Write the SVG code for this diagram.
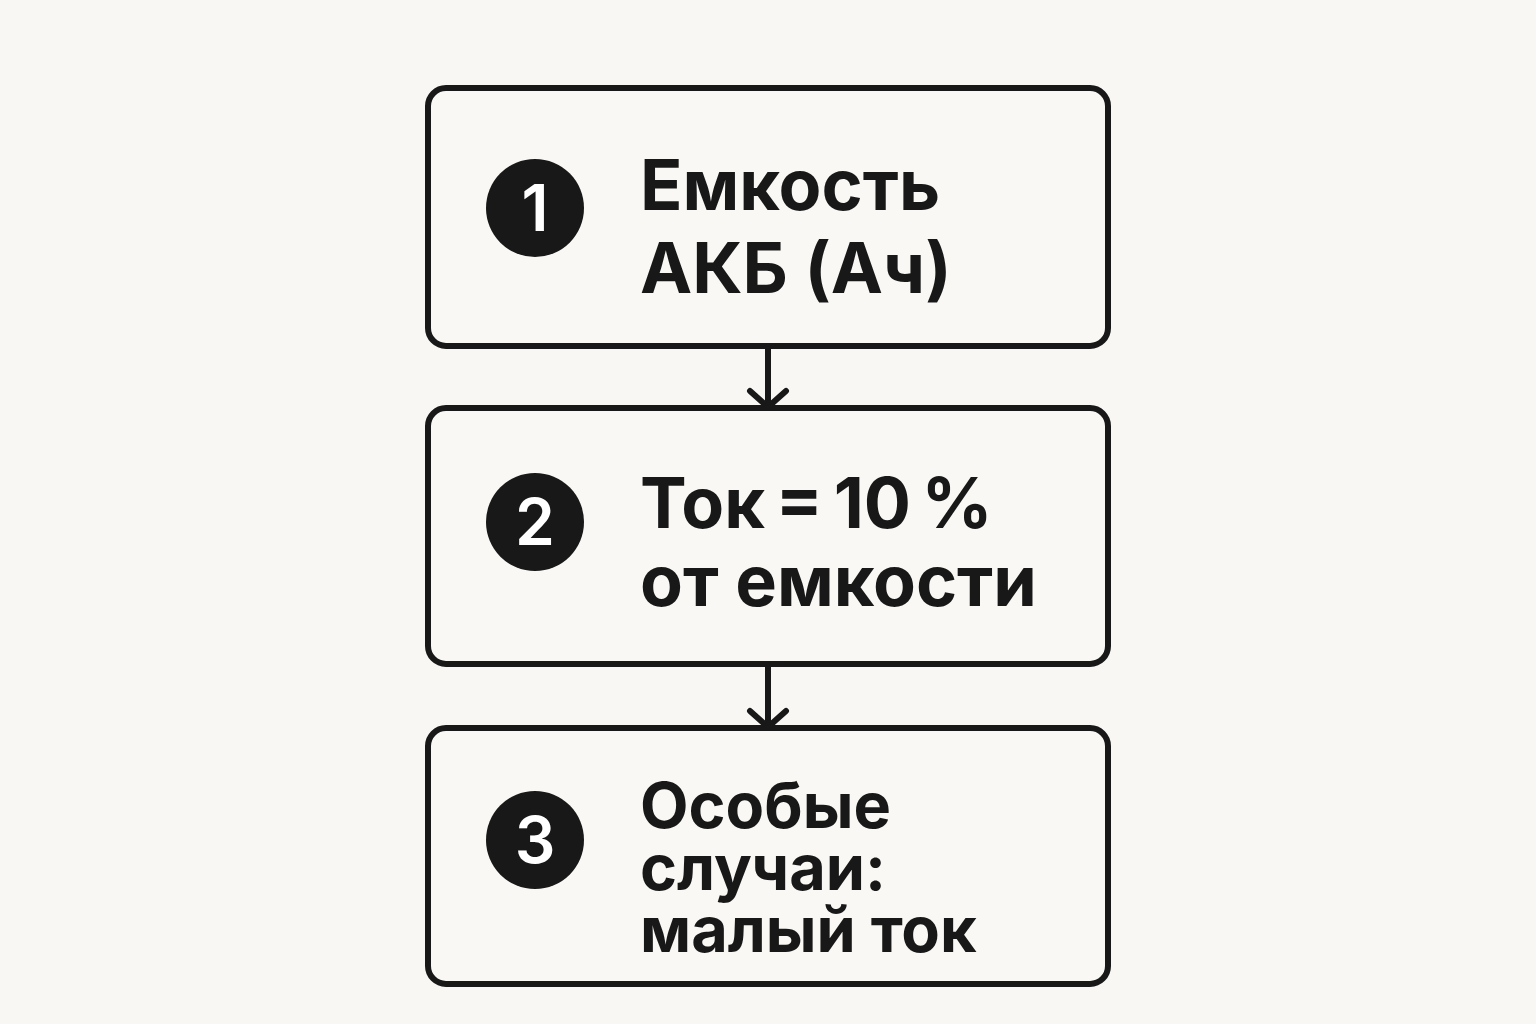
<svg xmlns="http://www.w3.org/2000/svg" width="1536" height="1024" viewBox="0 0 1536 1024">
<defs>
<style>
.box{fill:#f9f8f5;stroke:#181818;stroke-width:6}
.num{fill:#181818}
.nt{fill:#ffffff;font-family:Inter,"Liberation Sans",sans-serif;font-weight:600;font-size:64px;text-anchor:middle}
.t{fill:#181818;font-family:Inter,"Liberation Sans",sans-serif;font-weight:700}
.c{stroke:#181818;stroke-width:6;fill:none;stroke-linecap:round;stroke-linejoin:round}
</style>
</defs>
<rect width="1536" height="1024" fill="#f8f7f3"/>
<g id="connectors">
<path class="c" d="M768 348 V405 M750 391 L768 407 L786 391"/>
<path class="c" d="M768 666 V725 M750 711 L768 727 L786 711"/>
</g>
<g id="node1">
<rect class="box" x="428" y="88" width="680" height="258" rx="18"/>
<circle class="num" cx="535" cy="208" r="49"/>
<text class="nt" x="535" y="231">1</text>
<text class="t" font-size="70"><tspan x="640" y="210">Емкость</tspan><tspan x="640" y="293">АКБ (Ач)</tspan></text>
</g>
<g id="node2">
<rect class="box" x="428" y="408" width="680" height="256" rx="18"/>
<circle class="num" cx="535" cy="522" r="49"/>
<text class="nt" x="535" y="545">2</text>
<text class="t" font-size="70"><tspan x="640" y="528" word-spacing="-6">Ток = 10 %</tspan><tspan x="640" y="606">от емкости</tspan></text>
</g>
<g id="node3">
<rect class="box" x="428" y="728" width="680" height="256" rx="18"/>
<circle class="num" cx="535" cy="840" r="49"/>
<text class="nt" x="535" y="863">3</text>
<text class="t" font-size="63"><tspan x="640" y="828">Особые</tspan><tspan x="640" y="890">случаи:</tspan><tspan x="640" y="952">малый ток</tspan></text>
</g>
</svg>
